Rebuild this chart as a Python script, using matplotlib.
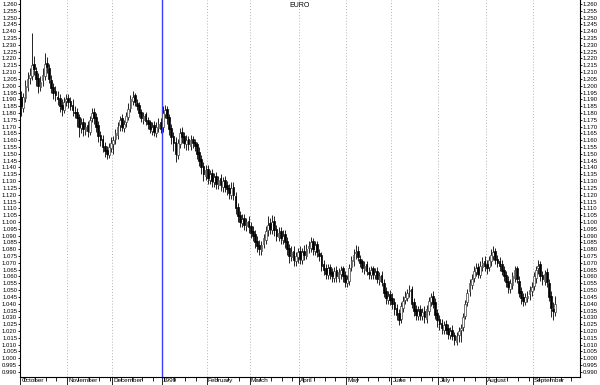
import numpy as np
import pandas as pd
import matplotlib
matplotlib.use('Agg')
import matplotlib.pyplot as plt
import matplotlib.transforms as mtransforms

plt.rcParams['font.family'] = ['Liberation Sans', 'DejaVu Sans']

# daily EURO candles, Oct 1998 - mid Sep 1999 (one row per trading day)
opens = [
    # Oct
    1.192, 1.184, 1.191, 1.199, 1.206, 1.207, 1.216, 1.211, 1.206, 1.199, 1.204, 1.207, 1.217, 1.213, 1.204, 1.199, 1.196, 1.192, 1.191, 1.186, 1.182, 1.189,
    # Nov
    1.191, 1.189, 1.186, 1.181, 1.181, 1.177, 1.169, 1.173, 1.167, 1.171, 1.166, 1.176, 1.181, 1.177, 1.171, 1.164, 1.161, 1.156, 1.153, 1.149, 1.154,
    # Dec
    1.157, 1.161, 1.164, 1.171, 1.176, 1.169, 1.173, 1.177, 1.184, 1.189, 1.193, 1.187, 1.186, 1.181, 1.175, 1.179, 1.175, 1.173, 1.167, 1.171, 1.165, 1.169, 1.173,
    # Jan
    1.170, 1.179, 1.183, 1.177, 1.169, 1.163, 1.159, 1.149, 1.157, 1.166, 1.163, 1.157, 1.161, 1.156, 1.161, 1.159, 1.157, 1.151, 1.146, 1.141, 1.134,
    # Feb
    1.139, 1.131, 1.136, 1.129, 1.134, 1.127, 1.132, 1.126, 1.131, 1.127, 1.125, 1.120, 1.126, 1.119, 1.111, 1.105, 1.099, 1.103, 1.097, 1.101,
    # Mar
    1.097, 1.093, 1.091, 1.086, 1.083, 1.079, 1.084, 1.087, 1.094, 1.099, 1.094, 1.101, 1.095, 1.089, 1.093, 1.087, 1.091, 1.086, 1.081, 1.074, 1.079, 1.071, 1.074,
    # Apr
    1.079, 1.072, 1.079, 1.075, 1.081, 1.081, 1.086, 1.079, 1.084, 1.077, 1.076, 1.069, 1.066, 1.061, 1.067, 1.063, 1.059, 1.065, 1.059, 1.062, 1.066, 1.061,
    # May
    1.055, 1.057, 1.067, 1.071, 1.077, 1.079, 1.073, 1.071, 1.065, 1.069, 1.063, 1.061, 1.066, 1.061, 1.064, 1.057, 1.061, 1.055, 1.049, 1.043, 1.047,
    # Jun
    1.044, 1.041, 1.037, 1.033, 1.029, 1.037, 1.043, 1.044, 1.049, 1.051, 1.041, 1.036, 1.031, 1.036, 1.031, 1.035, 1.029, 1.035, 1.041, 1.046, 1.041, 1.033,
    # Jul
    1.029, 1.026, 1.021, 1.025, 1.022, 1.017, 1.021, 1.017, 1.012, 1.017, 1.021, 1.023, 1.031, 1.041, 1.049, 1.054, 1.059, 1.063, 1.067, 1.061, 1.067, 1.071,
    # Aug
    1.069, 1.067, 1.071, 1.075, 1.079, 1.073, 1.071, 1.069, 1.065, 1.061, 1.057, 1.051, 1.054, 1.059, 1.066, 1.057, 1.049, 1.045, 1.041, 1.044, 1.047, 1.049,
    # Sep
    1.053, 1.059, 1.066, 1.069, 1.061, 1.057, 1.063, 1.055, 1.046, 1.036, 1.034,
]
highs = [
    1.196, 1.195, 1.204, 1.210, 1.213, 1.239, 1.222, 1.214, 1.209, 1.207, 1.213, 1.224, 1.221, 1.216, 1.208, 1.202, 1.200, 1.196, 1.194, 1.190, 1.192, 1.194,
    1.194, 1.192, 1.190, 1.185, 1.184, 1.179, 1.176, 1.176, 1.173, 1.174, 1.178, 1.184, 1.184, 1.180, 1.174, 1.167, 1.164, 1.159, 1.156, 1.158, 1.162,
    1.163, 1.168, 1.173, 1.178, 1.179, 1.175, 1.181, 1.187, 1.193, 1.196, 1.195, 1.190, 1.188, 1.183, 1.181, 1.181, 1.177, 1.175, 1.173, 1.174, 1.173, 1.176, 1.176,
    1.185, 1.186, 1.185, 1.179, 1.172, 1.166, 1.162, 1.161, 1.169, 1.170, 1.166, 1.164, 1.163, 1.164, 1.163, 1.161, 1.159, 1.155, 1.149, 1.144, 1.142,
    1.142, 1.138, 1.139, 1.136, 1.137, 1.134, 1.135, 1.133, 1.134, 1.130, 1.128, 1.129, 1.129, 1.122, 1.114, 1.108, 1.106, 1.106, 1.103, 1.104,
    1.100, 1.097, 1.094, 1.090, 1.087, 1.086, 1.091, 1.097, 1.104, 1.103, 1.105, 1.104, 1.098, 1.096, 1.096, 1.094, 1.094, 1.089, 1.084, 1.082, 1.082, 1.078, 1.081,
    1.082, 1.081, 1.083, 1.084, 1.086, 1.089, 1.088, 1.086, 1.086, 1.080, 1.078, 1.072, 1.069, 1.069, 1.069, 1.066, 1.067, 1.068, 1.066, 1.068, 1.068, 1.064,
    1.061, 1.069, 1.075, 1.080, 1.083, 1.082, 1.076, 1.073, 1.071, 1.071, 1.067, 1.068, 1.068, 1.066, 1.067, 1.063, 1.064, 1.058, 1.052, 1.049, 1.050,
    1.048, 1.044, 1.040, 1.036, 1.041, 1.046, 1.049, 1.051, 1.054, 1.053, 1.044, 1.039, 1.038, 1.039, 1.037, 1.038, 1.039, 1.045, 1.048, 1.049, 1.044, 1.036,
    1.032, 1.029, 1.027, 1.028, 1.025, 1.023, 1.024, 1.019, 1.019, 1.023, 1.025, 1.033, 1.043, 1.051, 1.058, 1.062, 1.068, 1.070, 1.070, 1.071, 1.074, 1.075,
    1.072, 1.075, 1.080, 1.082, 1.081, 1.076, 1.074, 1.072, 1.068, 1.064, 1.060, 1.058, 1.063, 1.068, 1.068, 1.060, 1.052, 1.048, 1.048, 1.049, 1.053, 1.056,
    1.063, 1.068, 1.072, 1.071, 1.064, 1.065, 1.066, 1.058, 1.049, 1.041, 1.046,
]
lows = [
    1.178, 1.181, 1.188, 1.196, 1.201, 1.204, 1.208, 1.200, 1.195, 1.196, 1.200, 1.204, 1.209, 1.202, 1.195, 1.190, 1.189, 1.186, 1.181, 1.178, 1.180, 1.185,
    1.184, 1.182, 1.178, 1.176, 1.170, 1.162, 1.165, 1.163, 1.164, 1.162, 1.164, 1.173, 1.172, 1.166, 1.159, 1.156, 1.151, 1.148, 1.146, 1.147, 1.151,
    1.150, 1.157, 1.161, 1.167, 1.167, 1.166, 1.170, 1.175, 1.181, 1.186, 1.185, 1.182, 1.177, 1.173, 1.172, 1.171, 1.168, 1.165, 1.164, 1.163, 1.162, 1.166, 1.165,
    1.166, 1.176, 1.172, 1.164, 1.157, 1.152, 1.144, 1.146, 1.154, 1.158, 1.154, 1.153, 1.153, 1.153, 1.154, 1.152, 1.146, 1.141, 1.135, 1.130, 1.131,
    1.128, 1.128, 1.126, 1.126, 1.124, 1.124, 1.123, 1.122, 1.122, 1.120, 1.117, 1.117, 1.116, 1.106, 1.100, 1.096, 1.096, 1.094, 1.093, 1.092,
    1.088, 1.086, 1.081, 1.078, 1.076, 1.076, 1.081, 1.084, 1.090, 1.091, 1.091, 1.090, 1.086, 1.086, 1.084, 1.084, 1.081, 1.076, 1.070, 1.071, 1.068, 1.068, 1.070,
    1.069, 1.069, 1.072, 1.073, 1.077, 1.078, 1.076, 1.076, 1.074, 1.071, 1.064, 1.061, 1.058, 1.058, 1.058, 1.056, 1.056, 1.056, 1.056, 1.058, 1.056, 1.052,
    1.052, 1.054, 1.064, 1.068, 1.073, 1.071, 1.067, 1.063, 1.062, 1.061, 1.058, 1.058, 1.058, 1.058, 1.055, 1.054, 1.053, 1.045, 1.040, 1.040, 1.039,
    1.036, 1.032, 1.028, 1.024, 1.026, 1.034, 1.040, 1.042, 1.045, 1.037, 1.031, 1.028, 1.028, 1.028, 1.028, 1.026, 1.026, 1.032, 1.038, 1.037, 1.029, 1.023,
    1.021, 1.018, 1.018, 1.018, 1.014, 1.014, 1.013, 1.010, 1.010, 1.012, 1.012, 1.020, 1.029, 1.038, 1.046, 1.051, 1.056, 1.060, 1.059, 1.059, 1.064, 1.064,
    1.062, 1.064, 1.068, 1.072, 1.069, 1.067, 1.064, 1.061, 1.057, 1.052, 1.048, 1.048, 1.051, 1.056, 1.055, 1.045, 1.040, 1.038, 1.039, 1.041, 1.043, 1.046,
    1.050, 1.055, 1.062, 1.057, 1.054, 1.054, 1.052, 1.042, 1.030, 1.028, 1.031,
]
closes = [
    1.185, 1.192, 1.200, 1.205, 1.208, 1.215, 1.212, 1.205, 1.200, 1.203, 1.208, 1.216, 1.214, 1.205, 1.198, 1.195, 1.193, 1.190, 1.185, 1.183, 1.188, 1.190,
    1.188, 1.185, 1.182, 1.180, 1.176, 1.170, 1.172, 1.168, 1.170, 1.167, 1.175, 1.180, 1.176, 1.170, 1.163, 1.160, 1.155, 1.152, 1.150, 1.155, 1.158,
    1.160, 1.165, 1.170, 1.175, 1.170, 1.172, 1.178, 1.183, 1.190, 1.192, 1.188, 1.185, 1.180, 1.176, 1.178, 1.174, 1.172, 1.168, 1.170, 1.166, 1.170, 1.172, 1.168,
    1.180, 1.182, 1.176, 1.168, 1.162, 1.158, 1.150, 1.158, 1.165, 1.162, 1.158, 1.160, 1.157, 1.160, 1.158, 1.156, 1.150, 1.145, 1.140, 1.135, 1.138,
    1.132, 1.135, 1.130, 1.133, 1.128, 1.131, 1.127, 1.130, 1.126, 1.124, 1.121, 1.125, 1.120, 1.110, 1.104, 1.100, 1.102, 1.098, 1.100, 1.096,
    1.092, 1.090, 1.085, 1.082, 1.080, 1.083, 1.088, 1.093, 1.098, 1.095, 1.100, 1.094, 1.090, 1.092, 1.088, 1.090, 1.085, 1.080, 1.075, 1.078, 1.072, 1.075, 1.078,
    1.073, 1.078, 1.076, 1.080, 1.082, 1.085, 1.080, 1.083, 1.078, 1.075, 1.068, 1.065, 1.062, 1.066, 1.062, 1.060, 1.064, 1.060, 1.063, 1.065, 1.060, 1.056,
    1.058, 1.066, 1.072, 1.076, 1.078, 1.074, 1.070, 1.066, 1.068, 1.064, 1.062, 1.065, 1.062, 1.063, 1.058, 1.060, 1.056, 1.048, 1.044, 1.046, 1.043,
    1.040, 1.036, 1.032, 1.028, 1.038, 1.042, 1.045, 1.048, 1.050, 1.040, 1.035, 1.032, 1.035, 1.032, 1.034, 1.030, 1.036, 1.042, 1.045, 1.040, 1.032, 1.028,
    1.025, 1.022, 1.024, 1.021, 1.018, 1.020, 1.016, 1.013, 1.016, 1.020, 1.022, 1.030, 1.040, 1.048, 1.055, 1.058, 1.064, 1.066, 1.062, 1.068, 1.070, 1.068,
    1.066, 1.072, 1.076, 1.078, 1.072, 1.070, 1.068, 1.064, 1.060, 1.056, 1.052, 1.055, 1.060, 1.065, 1.058, 1.048, 1.044, 1.042, 1.045, 1.046, 1.050, 1.052,
    1.060, 1.065, 1.068, 1.060, 1.058, 1.062, 1.056, 1.045, 1.037, 1.035, 1.040,
]

month_names = ['October', 'November', 'December', '1999', 'February', 'March',
               'April', 'May', 'June', 'July', 'August', 'September']

# trading calendar for the whole axis
days = pd.bdate_range('1998-10-01', '1999-09-30')
n_axis = len(days)
month_start = np.where(np.r_[True, days.month[1:] != days.month[:-1]])[0]
mondays = np.where(days.weekday == 0)[0]

df = pd.DataFrame({'open': opens, 'high': highs, 'low': lows, 'close': closes})
x = np.arange(len(df))

fig = plt.figure(figsize=(6.0, 3.85), dpi=100)
ax = fig.add_axes([20 / 600, 8 / 385, 560 / 600, 377 / 385])

# month separators
for i, m in enumerate(month_start):
    if i == 0:
        continue
    if month_names[i] == '1999':
        ax.axvline(m - 0.5, color='#3c3cff', lw=1.0, zorder=1)
    else:
        ax.axvline(m - 0.5, color='#b4b4b4', lw=0.7, ls=(0, (1, 2)), zorder=1)

# candles
ax.vlines(x, df['low'], df['high'], color='black', lw=0.6, zorder=2)
up = df['close'] >= df['open']
body_lo = np.minimum(df['open'], df['close'])
body_h = np.maximum((df['close'] - df['open']).abs(), 0.0006)
ax.bar(x[up], body_h[up], bottom=body_lo[up], width=0.8,
       facecolor='white', edgecolor='#404040', lw=0.5, zorder=3)
ax.bar(x[~up], body_h[~up], bottom=body_lo[~up], width=0.8,
       facecolor='black', edgecolor='black', lw=0.5, zorder=3)

ax.set_xlim(-0.5, n_axis - 0.5)
ax.set_ylim(0.9862, 1.2629)

# y axis on both sides
yt = np.round(np.arange(0.990, 1.2601, 0.005), 3)
ax.set_yticks(yt)
ax.set_yticklabels([f'{v:.3f}' for v in yt])
ax.tick_params(axis='y', which='both', left=True, right=True, labelleft=True,
               labelright=True, labelsize=4.3, length=1.5, width=0.6, pad=0.6)

# x axis: month ticks + weekly minor ticks
ax.set_xticks(month_start - 0.5)
ax.set_xticklabels([])
ax.set_xticks(mondays - 0.5, minor=True)
ax.tick_params(axis='x', which='major', length=8, width=0.6)
ax.tick_params(axis='x', which='minor', length=3, width=0.6)
trans = mtransforms.blended_transform_factory(ax.transData, ax.transAxes)
for m, name in zip(month_start, month_names):
    ax.text(m + 0.1, -0.003, name, transform=trans, ha='left', va='top',
            fontsize=4.6, clip_on=False)

ax.spines['top'].set_visible(False)
for s in ['left', 'right', 'bottom']:
    ax.spines[s].set_linewidth(0.8)

ax.text(0.5, 0.995, 'EURO', transform=ax.transAxes, ha='center', va='top', fontsize=5)

fig.savefig('out.png', dpi=100)
